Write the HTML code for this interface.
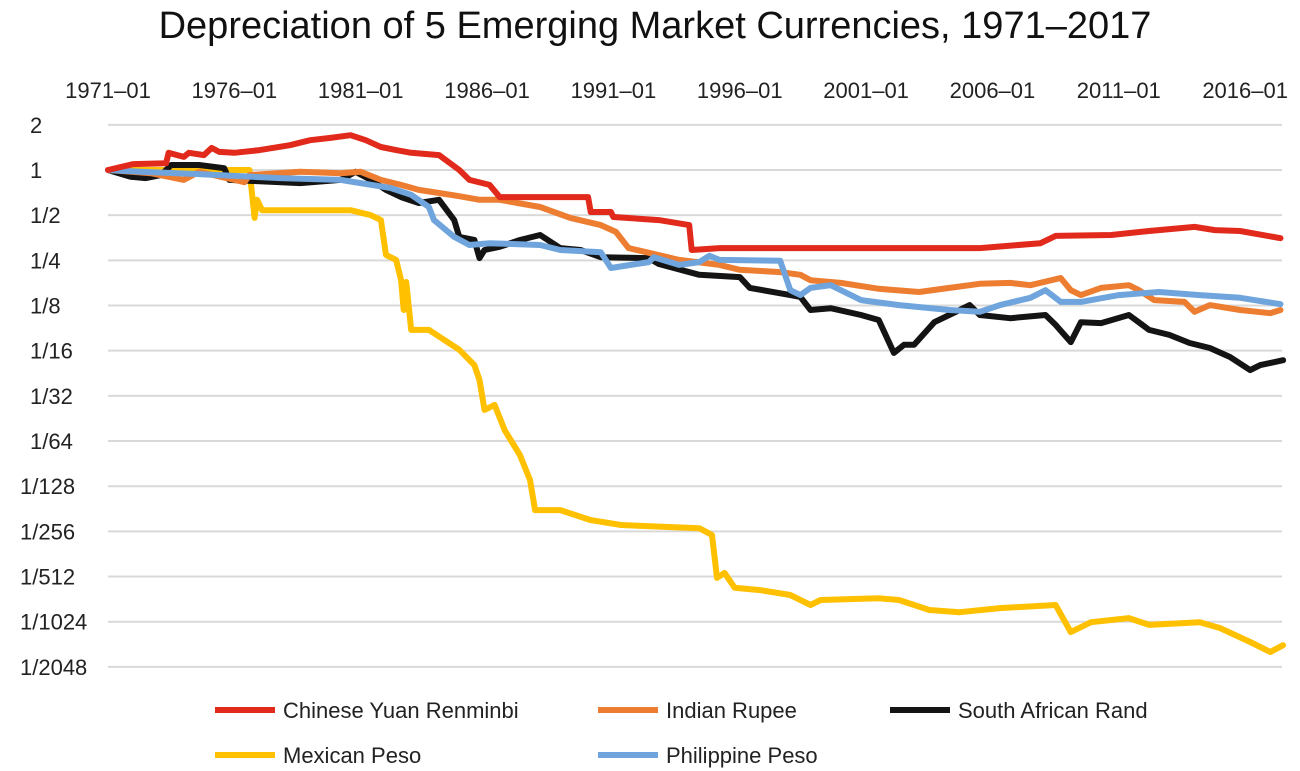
<!DOCTYPE html>
<html><head><meta charset="utf-8"><style>
body{margin:0;background:#fff}
svg{display:block;font-family:"Liberation Sans",sans-serif}
</style></head><body>
<svg id="chart" width="1300" height="771">
<text x="655" y="38" text-anchor="middle" font-size="38" fill="#111">Depreciation of 5 Emerging Market Currencies, 1971–2017</text>
<g id="grid"></g><g id="xt"></g><g id="yt"></g><g id="series"></g><g id="legend"></g>
</svg>
<script>
const xTickYears=[1971,1976,1981,1986,1991,1996,2001,2006,2011,2016];
const yTickLog=[1,0,-1,-2,-3,-4,-5,-6,-7,-8,-9,-10,-11];
const yTickLabels=["2","1","1/2","1/4","1/8","1/16","1/32","1/64","1/128","1/256","1/512","1/1024","1/2048"];
const seriesNames=["Chinese Yuan Renminbi","Indian Rupee","South African Rand","Mexican Peso","Philippine Peso"];
const cnyYears=[1971,1972,1973.3,1973.4,1974,1974.2,1974.8,1975.1,1975.4,1976,1977,1978.2,1979,1979.8,1980.6,1981.2,1981.8,1982.4,1983,1984.1,1984.9,1985.3,1986.1,1986.5,1990,1990.1,1990.9,1991,1992.8,1994,1994.1,1995.2,2005.5,2007.9,2008.5,2010.7,2012.2,2014,2014.8,2015.8,2017.4];
const cnyVals=[0,0.13,0.15,0.38,0.29,0.38,0.33,0.49,0.4,0.38,0.44,0.55,0.66,0.71,0.77,0.66,0.51,0.44,0.38,0.33,0,-0.22,-0.33,-0.6,-0.6,-0.93,-0.93,-1.04,-1.11,-1.22,-1.77,-1.73,-1.73,-1.62,-1.46,-1.44,-1.35,-1.26,-1.33,-1.35,-1.51];
const inrYears=[1971,1972.7,1974,1974.6,1976.4,1976.6,1978.6,1980.2,1981,1981.8,1982.6,1983.3,1984.1,1984.9,1985.7,1986.5,1988.1,1989.3,1990.5,1991.1,1991.6,1992.3,1993.6,1995.2,1996,1997.6,1998.4,1998.8,2000,2001.5,2003.1,2004.3,2005.5,2006.7,2007.5,2008.7,2009.1,2009.5,2010.3,2011.4,2011.8,2012.4,2013.6,2014,2014.6,2015.8,2017,2017.4];
const inrVals=[0,-0.07,-0.22,-0.04,-0.27,-0.11,-0.04,-0.07,-0.04,-0.22,-0.33,-0.44,-0.51,-0.58,-0.66,-0.66,-0.82,-1.06,-1.22,-1.37,-1.73,-1.82,-1.99,-2.1,-2.21,-2.26,-2.32,-2.44,-2.5,-2.63,-2.7,-2.61,-2.52,-2.5,-2.55,-2.39,-2.66,-2.77,-2.61,-2.55,-2.66,-2.88,-2.92,-3.14,-2.99,-3.1,-3.17,-3.1];
const zarYears=[1971,1971.9,1972.5,1973.1,1973.5,1974.6,1975.6,1975.8,1978.6,1980.2,1980.8,1981.4,1982,1982.6,1983.3,1984.1,1984.7,1984.9,1985.5,1985.7,1985.9,1986.5,1987.3,1988.1,1988.9,1989.7,1990.5,1992.4,1992.8,1994.4,1996,1996.4,1998,1998.4,1998.8,1999.6,2000.8,2001.5,2002.1,2002.5,2002.9,2003.7,2004.7,2005.1,2005.5,2006.7,2008.1,2008.5,2009.1,2009.5,2010.3,2011.4,2012.2,2013,2013.8,2014.6,2015.4,2016.2,2016.6,2017.5];
const zarVals=[0,-0.15,-0.18,-0.11,0.11,0.11,0.04,-0.22,-0.29,-0.22,-0.04,-0.22,-0.44,-0.6,-0.73,-0.66,-1.11,-1.48,-1.55,-1.95,-1.77,-1.7,-1.55,-1.44,-1.73,-1.77,-1.93,-1.95,-2.08,-2.32,-2.37,-2.61,-2.77,-2.81,-3.1,-3.06,-3.21,-3.32,-4.05,-3.87,-3.87,-3.37,-3.1,-2.99,-3.21,-3.28,-3.21,-3.43,-3.81,-3.37,-3.39,-3.21,-3.54,-3.65,-3.83,-3.94,-4.14,-4.43,-4.32,-4.21];
const mxnYears=[1971,1976.6,1976.8,1976.9,1977.1,1980.6,1981.4,1981.8,1982,1982.4,1982.6,1982.7,1982.8,1983,1983.7,1984.9,1985.5,1985.7,1985.9,1986.3,1986.7,1987.3,1987.7,1987.9,1988.9,1990.1,1991.3,1994.4,1994.9,1995.1,1995.4,1995.8,1996.8,1998,1998.8,1999.2,2001.5,2002.3,2003.5,2004.7,2006.3,2008.5,2009.1,2009.9,2011.4,2012.2,2014.2,2015,2016.2,2017,2017.5];
const mxnVals=[0,0,-1.06,-0.66,-0.89,-0.89,-1,-1.11,-1.88,-1.99,-2.44,-3.1,-2.48,-3.54,-3.54,-3.98,-4.32,-4.65,-5.31,-5.2,-5.76,-6.31,-6.86,-7.53,-7.53,-7.75,-7.86,-7.93,-8.08,-9.03,-8.92,-9.25,-9.3,-9.41,-9.63,-9.52,-9.48,-9.52,-9.74,-9.79,-9.7,-9.63,-10.23,-10.01,-9.92,-10.07,-10.01,-10.14,-10.45,-10.67,-10.52];
const phpYears=[1971,1972.3,1974.6,1977.8,1980.2,1981,1982.2,1983,1983.7,1983.9,1984.7,1985.3,1986.1,1988.1,1988.9,1990.5,1990.9,1992.4,1992.6,1993.6,1994.4,1994.8,1995.2,1997.6,1998,1998.4,1998.8,1999.6,2000.8,2002.3,2004.3,2005.5,2006.3,2007.5,2008.1,2008.7,2009.5,2011,2012.6,2014.2,2015.8,2017.4];
const phpVals=[0,-0.04,-0.09,-0.18,-0.22,-0.29,-0.4,-0.55,-0.82,-1.11,-1.48,-1.66,-1.62,-1.66,-1.77,-1.82,-2.17,-2.04,-1.93,-2.1,-2.04,-1.9,-1.99,-2.01,-2.66,-2.77,-2.61,-2.55,-2.88,-2.99,-3.1,-3.14,-2.99,-2.83,-2.66,-2.92,-2.92,-2.77,-2.7,-2.77,-2.83,-2.97];

const NS="http://www.w3.org/2000/svg";
const xs=y=>108+(y-1971)*25.27;
const ys=v=>170-v*45.17;
function mk(tag,attrs,parent){const e=document.createElementNS(NS,tag);for(const k in attrs)e.setAttribute(k,attrs[k]);parent.appendChild(e);return e;}
const grid=document.getElementById('grid'),xt=document.getElementById('xt'),yt=document.getElementById('yt'),sg=document.getElementById('series'),lg=document.getElementById('legend');
yTickLog.forEach((v,i)=>{
  const l=mk('line',{x1:108,x2:1282,y1:ys(v),y2:ys(v),stroke:'#d9d9d9','stroke-width':2},grid);
  
  
  const t=mk('text',{x:yTickLabels[i].length>4?20:30,y:ys(v)+8,'font-size':22,fill:'#222'},yt);
  t.textContent=yTickLabels[i];
  
  
});
xTickYears.forEach(yr=>{
  const t=mk('text',{x:xs(yr),y:98,'text-anchor':'middle','font-size':22,fill:'#222'},xt);
  t.textContent=yr+'–01';
  
  
});
const colors=['#e12a1c','#ed7d31','#141414','#ffc000','#6fa5dc'];
const data=[[cnyYears,cnyVals],[inrYears,inrVals],[zarYears,zarVals],[mxnYears,mxnVals],[phpYears,phpVals]];
const order=[3,2,1,4,0];
order.forEach(i=>{
  const [yy,vv]=data[i];
  const d=yy.map((y,j)=>(j?'L':'M')+xs(y).toFixed(1)+' '+ys(vv[j]).toFixed(1)).join(' ');
  const p=mk('path',{d:d,fill:'none',stroke:colors[i],'stroke-width':6,'stroke-linejoin':'round','stroke-linecap':'round'},sg);
  
  
});
const legPos=[[215,710],[598,710],[890,710],[215,755],[598,755]];
seriesNames.forEach((n,i)=>{
  const [x,y]=legPos[i];
  const l=mk('line',{x1:x,x2:x+60,y1:y,y2:y,stroke:colors[i],'stroke-width':6},lg);
  
  
  const t=mk('text',{x:x+68,y:y+8,'font-size':22,fill:'#222'},lg);
  t.textContent=n;
  
  
});
</script>
</body></html>
